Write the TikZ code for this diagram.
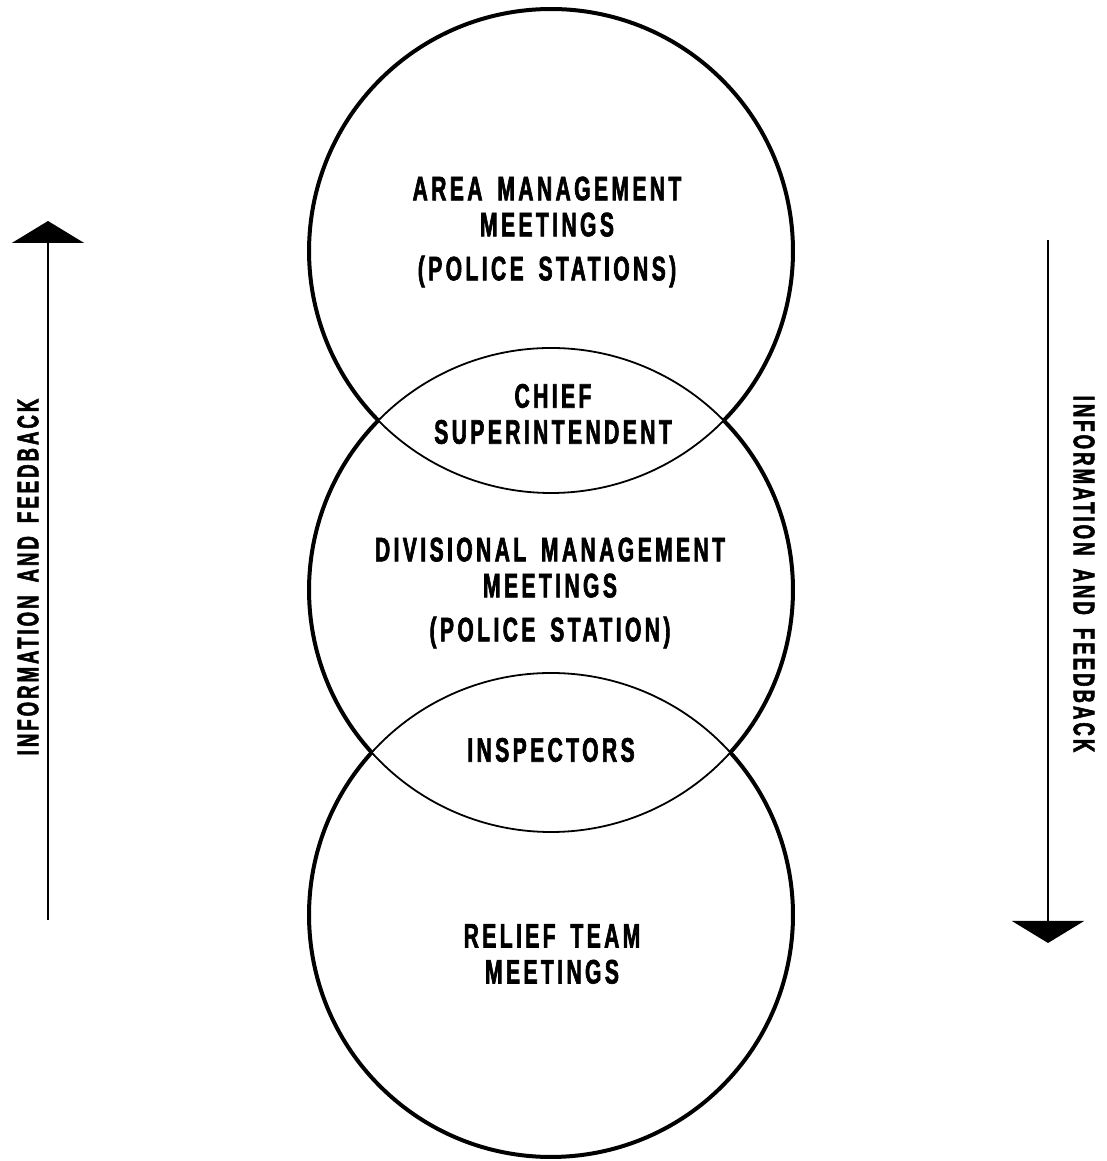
\documentclass[tikz,border=0pt]{standalone}
\usepackage{fontspec}
\usetikzlibrary{arrows.meta}
\newfontfamily\stencil{Liberation Sans}[FakeStretch=0.62, LetterSpace=10, FakeBold=1.8, WordSpace=1.6]

\begin{document}
\begin{tikzpicture}[
            x=1pt, y=1pt,
            every node/.style={align=center, font=\stencil\bfseries\fontsize{34}{36}\selectfont}
        ]
        
        % Define styles for circles and arrows
        \tikzset{
            ring/.style={circle, draw, line width=1.8pt, minimum size=484pt, inner sep=0pt},
            rim/.style={line width=4pt},
            flow/.style={line width=2pt, -{Triangle[width=72pt, length=22pt]}},
            sidenote/.style={font=\stencil\bfseries\fontsize{30}{34}\selectfont}
        }
        
        \useasboundingbox (0,0) rectangle (1107,1161);
        
        % The three meeting circles
        \node[ring] (area) at (551,910) {};
        \node[ring] (division) at (551,571) {};
        \node[ring] (relief) at (551,246) {};
        
        % Heavy outer rims
        \draw[rim] ([shift={(-44.5:242)}]area.center) arc[start angle=-44.5, end angle=224.5, radius=242];
        \draw[rim] ([shift={(-42.2:242)}]division.center) arc[start angle=-42.2, end angle=44.5, radius=242];
        \draw[rim] ([shift={(135.5:242)}]division.center) arc[start angle=135.5, end angle=222.2, radius=242];
        \draw[rim] ([shift={(137.8:242)}]relief.center) arc[start angle=137.8, end angle=402.2, radius=242];
        
        % Labels
        \node (areatext) at (547,929) {AREA MANAGEMENT\\MEETINGS\\[8pt](POLICE STATIONS)};
        \node (chieftext) at (553,747) {CHIEF\\SUPERINTENDENT};
        \node (divisiontext) at (550,568) {DIVISIONAL MANAGEMENT\\MEETINGS\\[8pt](POLICE STATION)};
        \node (inspectortext) at (551,411) {INSPECTORS};
        \node (relieftext) at (552,207) {RELIEF TEAM\\MEETINGS};
        
        % Information flow
        \coordinate (upfoot) at (48,241);
        \coordinate (uptip) at (48,940);
        \draw[flow] (upfoot) -- (uptip);
        \node[sidenote, rotate=90] (upnote) at (28,584) {INFORMATION AND FEEDBACK};
        
        \coordinate (downfoot) at (1048,921);
        \coordinate (downtip) at (1048,218);
        \draw[flow] (downfoot) -- (downtip);
        \node[sidenote, rotate=-90] (downnote) at (1084,587) {INFORMATION AND FEEDBACK};
        
        \end{tikzpicture}
\end{document}
